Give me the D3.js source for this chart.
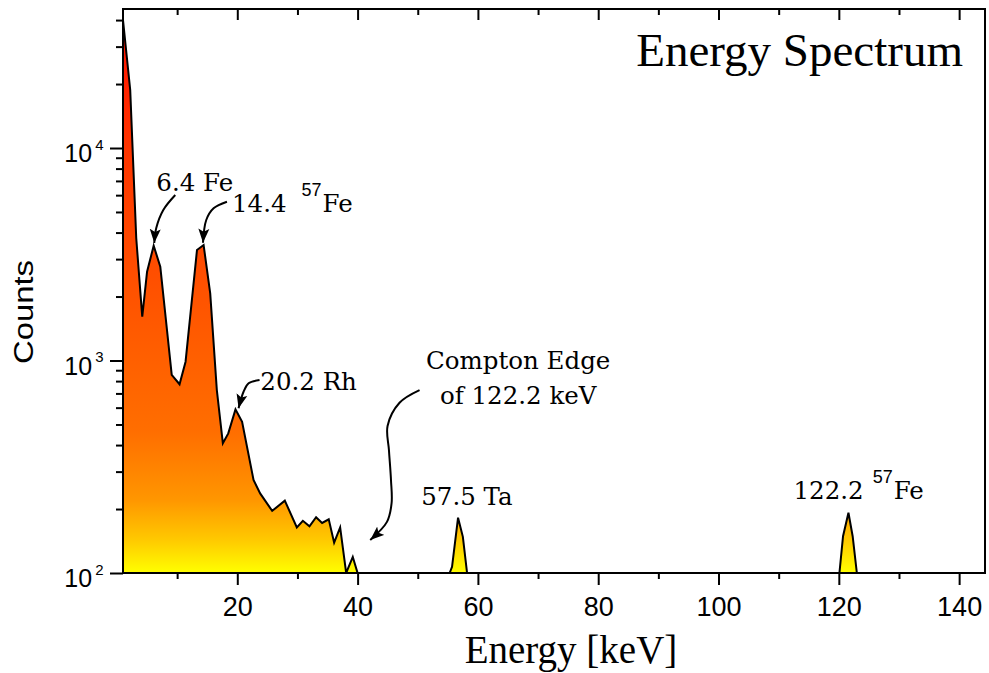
<!DOCTYPE html>
<html>
<head>
<meta charset="utf-8">
<script src="https://cdn.jsdelivr.net/npm/d3@7"></script>
<style>
  body { margin: 0; background: #fff; }
  svg { display: block; }
</style>
</head>
<body>
<div id="chart"></div>
<script>
// spectrum (energy in keV, counts per bin)
const energy = [1.0, 2.2, 3.2, 4.2, 5.0, 6.1, 7.2, 9.1, 10.4, 11.4, 13.3, 14.4, 15.5, 16.6, 17.6, 18.5,
  19.7, 20.8, 22.7, 23.8, 25.8, 27.9, 29.9, 30.9, 32.0, 33.1, 34.1, 35.2, 36.1, 37.1, 38.1, 39.2, 40.0,
  55.3, 55.7, 56.7, 57.5, 58.2, 120.1, 120.7, 121.6, 122.3, 123.0, 144.3];
const counts = [40000, 18750, 3770, 1607, 2618, 3470, 2763, 855, 773, 987, 3311, 3496, 2070, 726, 408, 454,
  589, 515, 274, 237, 196, 219, 164, 176, 166, 183, 172, 179, 139, 164, 100, 119, 100,
  100, 107, 182, 148, 100, 100, 149, 192, 149, 100, 100];

const xMajor = [20, 40, 60, 80, 100, 120, 140];
const xMinor = [10, 30, 50, 70, 90, 110, 130];
const yMajor = [100, 1000, 10000];
const yMinor = [200, 300, 400, 500, 600, 700, 800, 900,
  2000, 3000, 4000, 5000, 6000, 7000, 8000, 9000, 20000, 30000, 40000];

// peak labels: parts are [text, isSuperscript, dx]
const labels = [
  { e: 6.54, c: 6290, anchor: "start", parts: [["6.4 Fe", false, 0]] },
  { e: 19.12, c: 5014, anchor: "start", parts: [["14.4", false, 0], ["57", true, 15], ["Fe", false, 1]] },
  { e: 23.83, c: 726, anchor: "start", parts: [["20.2 Rh", false, 0]] },
  { e: 66.7, c: 912, anchor: "middle", parts: [["Compton Edge", false, 0]] },
  { e: 66.7, c: 624, anchor: "middle", parts: [["of 122.2 keV", false, 0]] },
  { e: 58.18, c: 209, anchor: "middle", parts: [["57.5 Ta", false, 0]] },
  { e: 112.47, c: 222, anchor: "start", parts: [["122.2", false, 0], ["57", true, 9], ["Fe", false, 1]] }
];

// arrow paths, [energy, counts] from tail to tip
const arrows = [
  [[9.69, 6010], [7.70, 5110], [6.53, 4203], [6.20, 3573]],
  [[18.28, 5588], [16.06, 5203], [14.84, 4584], [14.30, 3584]],
  [[23.70, 809], [21.88, 781], [21.04, 713], [20.21, 596]],
  [[50.30, 726], [46.97, 633], [44.98, 492], [45.21, 379], [45.55, 274], [45.65, 213], [44.88, 174], [42.10, 143]]
];

const W = 989, H = 673;
const M = { top: 9, right: 4, bottom: 100, left: 123 };
const serif = "'Liberation Serif', 'Times New Roman', serif";
const wideSerif = "'DejaVu Serif', serif";
const sans = "'Liberation Sans', Arial, sans-serif";

const x = d3.scaleLinear().domain([1, 144.3]).range([M.left, W - M.right]);
const y = d3.scaleLog().domain([100, 45100]).range([H - M.bottom, M.top]);

const svg = d3.select('#chart').append('svg')
  .attr('width', W)
  .attr('height', H);

const defs = svg.append('defs');

// heat gradient, fixed to the plot height
const grad = defs.append('linearGradient')
  .attr('id', 'heat')
  .attr('gradientUnits', 'userSpaceOnUse')
  .attr('x1', 0).attr('x2', 0)
  .attr('y1', y.range()[1]).attr('y2', y.range()[0]);
[[0, '#ff0c00'], [0.25, '#ff3500'], [0.5, '#ff5200'], [0.75, '#ff6e00'],
 [0.87, '#ff9600'], [0.94, '#ffc800'], [1, '#ffff00']].forEach(s => {
  grad.append('stop').attr('offset', s[0]).attr('stop-color', s[1]);
});

defs.append('clipPath').attr('id', 'plot-clip')
  .append('rect')
  .attr('x', x.range()[0]).attr('y', y.range()[1])
  .attr('width', x.range()[1] - x.range()[0])
  .attr('height', y.range()[0] - y.range()[1]);

defs.append('marker')
  .attr('id', 'head')
  .attr('viewBox', '0 -6 14 12')
  .attr('refX', 14).attr('refY', 0)
  .attr('markerWidth', 14).attr('markerHeight', 12)
  .attr('markerUnits', 'userSpaceOnUse')
  .attr('orient', 'auto')
  .append('path')
  .attr('d', 'M0,-5.5L14,0L0,5.5L3,0Z')
  .attr('fill', '#000');

const data = energy.map((e, i) => ({ e: e, c: counts[i] }));

const area = d3.area()
  .x(d => x(d.e))
  .y0(y.range()[0])
  .y1(d => y(d.c));

const line = d3.line()
  .x(d => x(d.e))
  .y(d => y(d.c));

const plot = svg.append('g').attr('clip-path', 'url(#plot-clip)');

plot.append('path')
  .datum(data)
  .attr('fill', 'url(#heat)')
  .attr('d', area);

plot.append('path')
  .datum(data)
  .attr('fill', 'none')
  .attr('stroke', '#000')
  .attr('stroke-width', 2)
  .attr('d', line);

// bottom axis
const gx = svg.append('g')
  .attr('transform', `translate(0,${y.range()[0]})`)
  .call(d3.axisBottom(x).tickValues(xMajor.concat(xMinor)).tickSize(12)
    .tickFormat(d => xMajor.includes(d) ? d : ''));
gx.select('.domain').remove();
gx.selectAll('.tick line')
  .attr('stroke-width', 2)
  .attr('y2', d => xMajor.includes(d) ? 12 : 6);
gx.selectAll('.tick text')
  .attr('y', 43).attr('dy', 0)
  .style('font-family', sans)
  .style('font-size', '27px');

// top axis, ticks inward
const gt = svg.append('g')
  .attr('transform', `translate(0,${y.range()[1]})`)
  .call(d3.axisTop(x).tickValues(xMajor.concat(xMinor)).tickSize(-11).tickFormat(''));
gt.select('.domain').remove();
gt.selectAll('.tick line')
  .attr('stroke-width', 2)
  .attr('y2', d => xMajor.includes(d) ? 11 : 6);

// left axis, log
const gy = svg.append('g')
  .attr('transform', `translate(${x.range()[0]},0)`)
  .call(d3.axisLeft(y).tickValues(yMajor.concat(yMinor)).tickSize(13).tickFormat(''));
gy.select('.domain').remove();
gy.selectAll('.tick line')
  .attr('stroke-width', 2)
  .attr('x2', d => yMajor.includes(d) ? -13 : -7);
const ylab = gy.selectAll('.tick')
  .filter(d => yMajor.includes(d))
  .append('text')
  .attr('x', -19.5)
  .attr('y', 13.5)
  .attr('text-anchor', 'end')
  .attr('fill', '#000')
  .style('font-family', sans)
  .style('font-size', '25px');
ylab.append('tspan').text('10');
ylab.append('tspan')
  .attr('dx', 3).attr('dy', -12.5)
  .style('font-size', '15px')
  .text(d => Math.round(Math.log10(d)));

// frame
svg.append('rect')
  .attr('x', x.range()[0]).attr('y', y.range()[1])
  .attr('width', x.range()[1] - x.range()[0])
  .attr('height', y.range()[0] - y.range()[1])
  .attr('fill', 'none')
  .attr('stroke', '#000')
  .attr('stroke-width', 2);

// arrows
const arrowLine = d3.line()
  .x(d => x(d[0]))
  .y(d => y(d[1]))
  .curve(d3.curveCatmullRom);

svg.selectAll('.arrow')
  .data(arrows)
  .join('path')
  .attr('class', 'arrow')
  .attr('fill', 'none')
  .attr('stroke', '#000')
  .attr('stroke-width', 2)
  .attr('marker-end', 'url(#head)')
  .attr('d', arrowLine);

// labels
labels.forEach(l => {
  const t = svg.append('text')
    .attr('x', x(l.e))
    .attr('y', y(l.c))
    .attr('text-anchor', l.anchor)
    .style('font-family', wideSerif)
    .style('font-size', '24.5px');
  let up = false;
  l.parts.forEach(p => {
    const ts = t.append('tspan').attr('dx', p[2]).text(p[0]);
    if (p[1]) {
      ts.attr('dy', -16).style('font-family', sans).style('font-size', '18px');
      up = true;
    } else if (up) {
      ts.attr('dy', 16);
      up = false;
    }
  });
});

// titles
svg.append('text')
  .attr('x', 963)
  .attr('y', 66)
  .attr('text-anchor', 'end')
  .style('font-family', serif)
  .style('font-size', '47px')
  .text('Energy Spectrum');

svg.append('text')
  .attr('x', 571)
  .attr('y', 663)
  .attr('text-anchor', 'middle')
  .style('font-family', serif)
  .style('font-size', '39px')
  .text('Energy [keV]');

svg.append('text')
  .attr('transform', 'translate(33,312) rotate(-90)')
  .attr('text-anchor', 'middle')
  .attr('textLength', 104)
  .attr('lengthAdjust', 'spacingAndGlyphs')
  .style('font-family', sans)
  .style('font-size', '27px')
  .text('Counts');
</script>
</body>
</html>
